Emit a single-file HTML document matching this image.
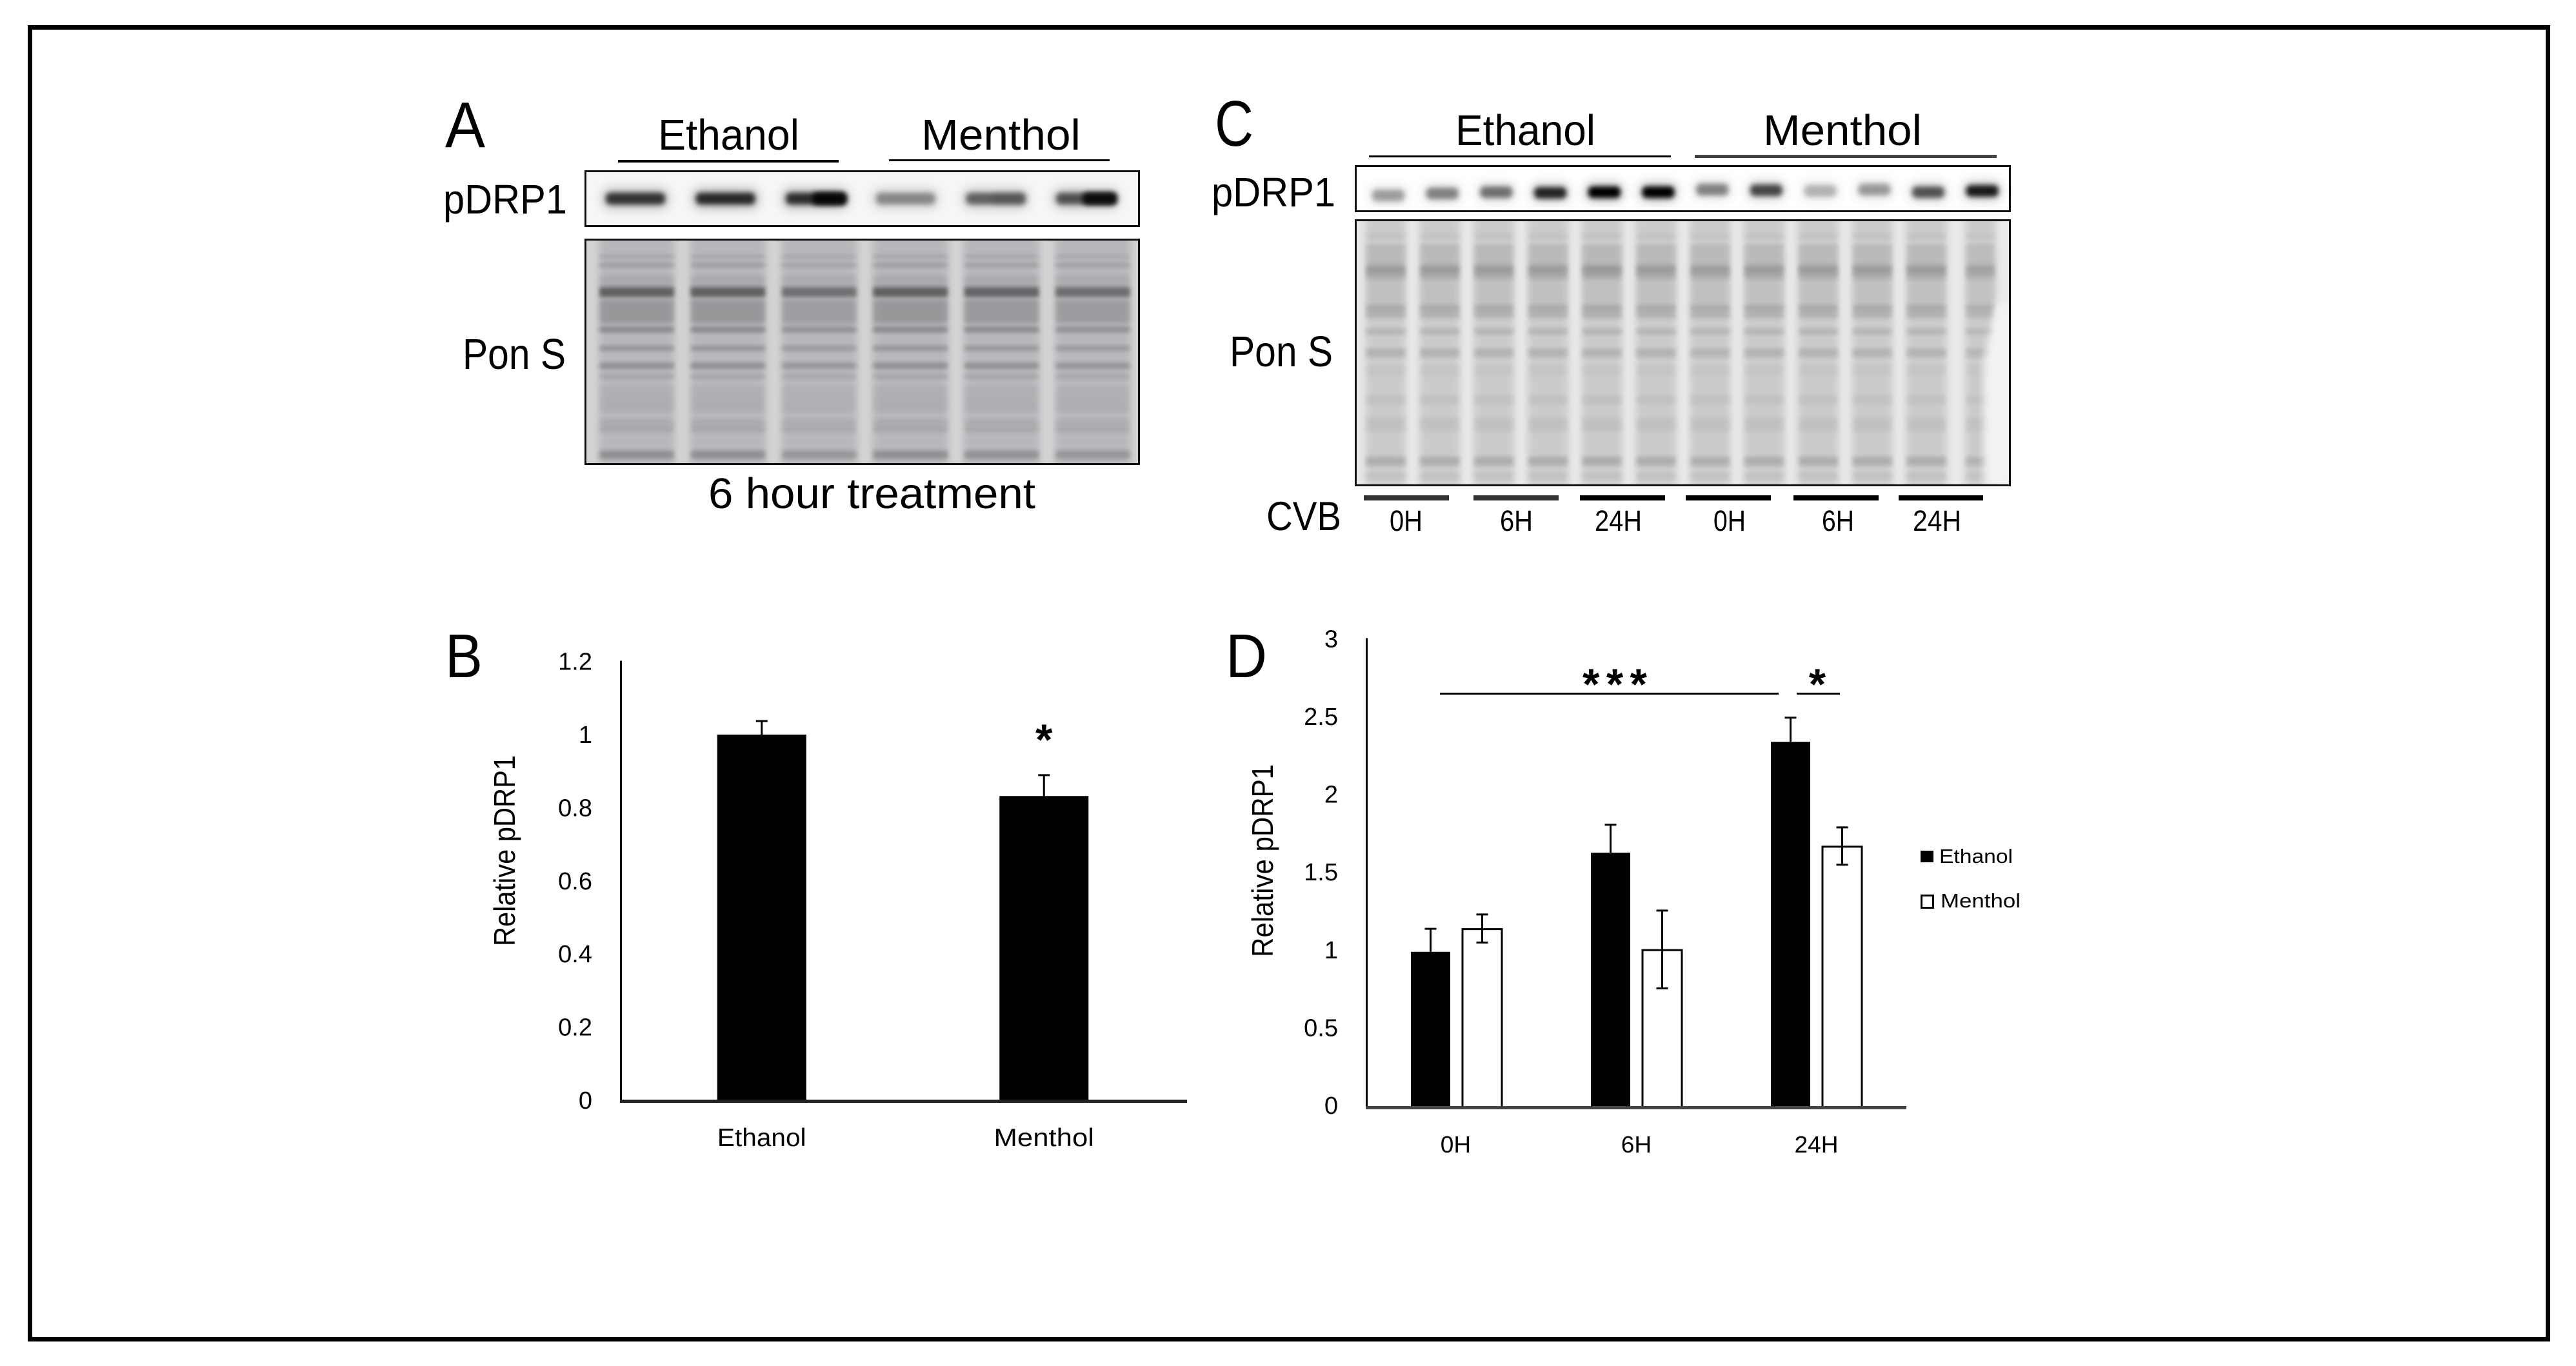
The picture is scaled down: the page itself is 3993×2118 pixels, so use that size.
<!DOCTYPE html>
<html lang="en">
<head>
<meta charset="utf-8">
<title>pDRP1 western blots and quantification</title>
<style>
html,body{margin:0;padding:0;background:#fff;}
svg{display:block;}
text{font-family:"Liberation Sans",Arial,sans-serif;fill:#000;}
</style>
</head>
<body>
<svg id="fig" xmlns="http://www.w3.org/2000/svg" width="3993" height="2118" viewBox="0 0 3993 2118">
  <defs>
    <filter id="blurLane" x="-20%" y="-5%" width="140%" height="110%"><feGaussianBlur stdDeviation="6"/></filter>
    <filter id="blurBand" x="-10%" y="-150%" width="120%" height="400%"><feGaussianBlur stdDeviation="3.2"/></filter>
    <filter id="blurCore" x="-20%" y="-100%" width="140%" height="300%"><feGaussianBlur stdDeviation="4"/></filter>
    <filter id="blurHalo" x="-30%" y="-200%" width="160%" height="500%"><feGaussianBlur stdDeviation="9"/></filter>
    <clipPath id="clipA1"><rect x="907" y="265" width="859" height="86"/></clipPath>
    <clipPath id="clipA2"><rect x="907" y="371" width="859" height="349"/></clipPath>
    <clipPath id="clipC1"><rect x="2101" y="257" width="1015" height="71"/></clipPath>
    <clipPath id="clipC2"><rect x="2101" y="341" width="1015" height="412"/></clipPath>
  </defs>

  <rect x="46.5" y="42.5" width="3903" height="2034" fill="#fff" stroke="#000" stroke-width="7"/>

  <!-- Panel A -->
  <g>
    <text x="690" y="228" font-size="100" textLength="62" lengthAdjust="spacingAndGlyphs">A</text>
    <text x="1020" y="232" font-size="67" textLength="219" lengthAdjust="spacingAndGlyphs">Ethanol</text>
    <rect x="958" y="248" width="342" height="4" fill="#000"/>
    <text x="1428" y="232" font-size="67" textLength="247" lengthAdjust="spacingAndGlyphs">Menthol</text>
    <rect x="1378" y="247" width="342" height="3" fill="#000"/>
    <text x="687" y="331" font-size="64" textLength="192" lengthAdjust="spacingAndGlyphs">pDRP1</text>
    <text x="717" y="572" font-size="67" textLength="160" lengthAdjust="spacingAndGlyphs">Pon S</text>
    <g id="blotA1" clip-path="url(#clipA1)"></g>
    <rect x="907.5" y="265.5" width="858" height="85" fill="none" stroke="#111" stroke-width="3"/>
    <g id="blotA2" clip-path="url(#clipA2)"></g>
    <rect x="907.5" y="371.5" width="858" height="348" fill="none" stroke="#111" stroke-width="3"/>
    <text x="1098" y="788" font-size="67" textLength="507" lengthAdjust="spacingAndGlyphs">6 hour treatment</text>
  </g>

  <!-- Panel C -->
  <g>
    <text x="1883" y="226" font-size="100" textLength="60" lengthAdjust="spacingAndGlyphs">C</text>
    <text x="2256" y="225" font-size="67" textLength="217" lengthAdjust="spacingAndGlyphs">Ethanol</text>
    <rect x="2122" y="241" width="468" height="3" fill="#000"/>
    <text x="2733" y="225" font-size="67" textLength="246" lengthAdjust="spacingAndGlyphs">Menthol</text>
    <rect x="2627" y="240" width="468" height="5" fill="#444"/>
    <text x="1878" y="320" font-size="64" textLength="192" lengthAdjust="spacingAndGlyphs">pDRP1</text>
    <text x="1906" y="568" font-size="67" textLength="160" lengthAdjust="spacingAndGlyphs">Pon S</text>
    <g id="blotC1" clip-path="url(#clipC1)"></g>
    <rect x="2101.5" y="257.5" width="1014" height="70" fill="none" stroke="#111" stroke-width="3"/>
    <g id="blotC2" clip-path="url(#clipC2)"></g>
    <rect x="2101.5" y="341.5" width="1014" height="411" fill="none" stroke="#111" stroke-width="3"/>
    <text x="1963" y="822" font-size="63" textLength="116" lengthAdjust="spacingAndGlyphs">CVB</text>
    <g fill="#000">
      <rect x="2114" y="768" width="132" height="8" fill="#333"/>
      <rect x="2284" y="768" width="132" height="8" fill="#333"/>
      <rect x="2449" y="768" width="132" height="8"/>
      <rect x="2613" y="768" width="132" height="8"/>
      <rect x="2780" y="768" width="132" height="8"/>
      <rect x="2943" y="768" width="131" height="8"/>
    </g>
    <g font-size="45">
      <text x="2154" y="823" textLength="51" lengthAdjust="spacingAndGlyphs">0H</text>
      <text x="2325" y="823" textLength="51" lengthAdjust="spacingAndGlyphs">6H</text>
      <text x="2472" y="823" textLength="73" lengthAdjust="spacingAndGlyphs">24H</text>
      <text x="2656" y="823" textLength="50" lengthAdjust="spacingAndGlyphs">0H</text>
      <text x="2824" y="823" textLength="50" lengthAdjust="spacingAndGlyphs">6H</text>
      <text x="2965" y="823" textLength="75" lengthAdjust="spacingAndGlyphs">24H</text>
    </g>
  </g>

  <!-- Panel B -->
  <g id="chartB">
    <text x="690" y="1050" font-size="96" textLength="58" lengthAdjust="spacingAndGlyphs">B</text>
    <text transform="translate(798,1467) rotate(-90)" font-size="46" textLength="296" lengthAdjust="spacingAndGlyphs">Relative pDRP1</text>
  </g>

  <!-- Panel D -->
  <g id="chartD">
    <text x="1900" y="1050" font-size="96" textLength="64" lengthAdjust="spacingAndGlyphs">D</text>
    <text transform="translate(1973,1484) rotate(-90)" font-size="46" textLength="299" lengthAdjust="spacingAndGlyphs">Relative pDRP1</text>
    <rect x="2232" y="1074" width="525" height="3" fill="#000"/>
    <rect x="2785" y="1074" width="67" height="3" fill="#000"/>
    <text x="2503" y="1084" font-size="68" font-weight="700" text-anchor="middle" textLength="100" lengthAdjust="spacing">***</text>
    <text x="2817" y="1084" font-size="68" font-weight="700" text-anchor="middle">*</text>
    <g>
      <rect x="2977" y="1319" width="20" height="18" fill="#000"/>
      <text x="3006" y="1338" font-size="31" textLength="114" lengthAdjust="spacingAndGlyphs">Ethanol</text>
      <rect x="2978.5" y="1388.5" width="18" height="19" fill="#fff" stroke="#000" stroke-width="3"/>
      <text x="3008" y="1407" font-size="31" textLength="124" lengthAdjust="spacingAndGlyphs">Menthol</text>
    </g>
  </g>
</svg>

<script>
// ---------- Chart B data ----------
const bCategories = ['Ethanol', 'Menthol'];
const bValues = [1.0, 0.832];
const bErrors = [0.037, 0.057];
const bTicks = [0, 0.2, 0.4, 0.6, 0.8, 1, 1.2];
const bMarks = ['', '*'];

// ---------- Chart D data ----------
const dCategories = ['0H', '6H', '24H'];
const dEthanol = [1.0, 1.637, 2.35];
const dMenthol = [1.15, 1.015, 1.68];
const dEthanolErr = [0.148, 0.18, 0.155];
const dMentholErr = [0.09, 0.25, 0.12];
const dTicks = [0, 0.5, 1, 1.5, 2, 2.5, 3];

// ---------- Blot densitometry (relative band density per lane) ----------
const pdrpDensityA = [0.68, 0.74, 0.72, 0.26, 0.44, 0.52];
const pdrpHotspotA = [0, 0, 0.85, 0, 0.1, 0.85];
const pdrpDensityC = [0.22, 0.34, 0.42, 0.8, 1.0, 1.0, 0.34, 0.62, 0.12, 0.24, 0.56, 0.85];
const pdrpShiftC = [5, 2, 0, 1, 0, 0, -4, -3, -2, -4, 0, -2];
const ponLoadA = [1, 1, 0.82, 1, 0.95, 0.85];
const ponLoadC = [1, 1, 1, 1, 1.05, 1, 0.95, 1, 1, 1, 1, 0.85];
const ponStripsA = [
  [0.077, 6, 0.2], [0.115, 6, 0.34], [0.189, 20, 0.14], [0.235, 15, 0.95],
  [0.321, 36, 0.34], [0.401, 9, 0.52], [0.484, 8, 0.4], [0.562, 9, 0.46],
  [0.61, 7, 0.22], [0.676, 16, 0.08], [0.734, 24, 0.1], [0.814, 10, 0.14],
  [0.845, 8, 0.2], [0.957, 13, 0.42]
];
const ponStripsC = [
  [0.06, 8, 0.06], [0.095, 6, 0.05], [0.15, 44, 0.12], [0.197, 22, 0.22],
  [0.28, 46, 0.07], [0.345, 20, 0.18], [0.42, 10, 0.15], [0.5, 14, 0.16],
  [0.568, 16, 0.04], [0.677, 14, 0.07], [0.77, 22, 0.07], [0.908, 14, 0.2],
  [0.964, 8, 0.08]
];

const NS = 'http://www.w3.org/2000/svg';
function svgEl(tag, attrs, parent, txt) {
  const n = document.createElementNS(NS, tag);
  for (const k in attrs) n.setAttribute(k, attrs[k]);
  if (txt !== undefined) n.textContent = txt;
  parent.appendChild(n);
  return n;
}
function stretch(t, ratio) {
  const w = t.getComputedTextLength();
  t.setAttribute('textLength', (w * ratio).toFixed(1));
  t.setAttribute('lengthAdjust', 'spacingAndGlyphs');
}

// ---------- Chart B ----------
(function () {
  const g = document.getElementById('chartB');
  const x0 = 962, x1 = 1840, y0 = 1706, perUnit = 567, barW = 138;
  const yB = v => y0 - v * perUnit;
  const xB = i => x0 + (1837 - x0) * (i + 0.5) / bCategories.length;

  bCategories.forEach((c, i) => {
    const er = svgEl('path', {
      d: 'M' + xB(i) + ' ' + yB(bValues[i]) + 'V' + yB(bValues[i] + bErrors[i]) +
         'M' + (xB(i) - 9) + ' ' + yB(bValues[i] + bErrors[i]) + 'H' + (xB(i) + 9),
      stroke: '#000', 'stroke-width': 3, fill: 'none'
    }, g);
    
    

    const bar = svgEl('rect', {
      x: xB(i) - barW / 2, y: yB(bValues[i]), width: barW,
      height: yB(0) - yB(bValues[i]), fill: '#000'
    }, g);
    
    

    const lab = svgEl('text', {
      x: xB(i), y: 1777, 'font-size': 39, 'text-anchor': 'middle'
    }, g, c);
    
    
    stretch(lab, c === 'Menthol' ? 1.12 : 1.04);

    if (bMarks[i]) {
      const star = svgEl('text', {
        x: xB(i), y: 1170, 'font-size': 68, 'font-weight': 700, 'text-anchor': 'middle'
      }, g, bMarks[i]);
      
      
    }
  });

  bTicks.forEach(t => {
    const lab = svgEl('text', {
      x: 918, y: yB(t) + 13, 'font-size': 38, 'text-anchor': 'end'
    }, g, String(t));
    
    
  });

  const ya = svgEl('rect', { x: x0 - 1, y: yB(1.2) - 1, width: 3, height: y0 - yB(1.2) + 3, fill: '#000' }, g);
  
  
  const xa = svgEl('rect', { x: x0 - 1, y: y0 - 1, width: x1 - x0 + 1, height: 5, fill: '#222' }, g);
  
  
})();

// ---------- Chart D ----------
(function () {
  const g = document.getElementById('chartD');
  const x0 = 2118, x1 = 2955, y0 = 1717, perUnit = 241.2, barW = 61, off = 40;
  const yD = v => y0 - v * perUnit;
  const xD = i => x0 + (x1 - x0) * (i + 0.5) / dCategories.length;

  dCategories.forEach((c, i) => {
    const barE = svgEl('rect', {
      x: xD(i) - off - barW / 2, y: yD(dEthanol[i]), width: barW,
      height: yD(0) - yD(dEthanol[i]), fill: '#000'
    }, g);
    
    

    const barM = svgEl('rect', {
      x: xD(i) + off - barW / 2, y: yD(dMenthol[i]) + 1, width: barW,
      height: yD(0) - yD(dMenthol[i]) - 1, fill: '#fff', stroke: '#000', 'stroke-width': 3
    }, g);
    
    

    const ex = xD(i) - off;
    const errE = svgEl('path', {
      d: 'M' + ex + ' ' + yD(dEthanol[i]) + 'V' + yD(dEthanol[i] + dEthanolErr[i]) +
         'M' + (ex - 9) + ' ' + yD(dEthanol[i] + dEthanolErr[i]) + 'H' + (ex + 9),
      stroke: '#000', 'stroke-width': 3, fill: 'none'
    }, g);
    
    

    const mx = xD(i) + off;
    const top = yD(dMenthol[i] + dMentholErr[i]);
    const bot = yD(dMenthol[i] - dMentholErr[i]);
    const errM = svgEl('path', {
      d: 'M' + mx + ' ' + top + 'V' + bot +
         'M' + (mx - 9) + ' ' + top + 'H' + (mx + 9) +
         'M' + (mx - 9) + ' ' + bot + 'H' + (mx + 9),
      stroke: '#000', 'stroke-width': 3, fill: 'none'
    }, g);
    
    

    const lab = svgEl('text', {
      x: xD(i) - (i === 0 ? 1 : 0), y: 1787, 'font-size': 36, 'text-anchor': 'middle'
    }, g, c);
    
    
    stretch(lab, 1.03);
  });

  dTicks.forEach(t => {
    const lab = svgEl('text', {
      x: 2074, y: yD(t) + 10, 'font-size': 38, 'text-anchor': 'end'
    }, g, String(t));
    
    
  });

  const ya = svgEl('rect', { x: x0 - 1, y: yD(3) - 4, width: 3, height: y0 - yD(3) + 7, fill: '#000' }, g);
  
  
  const xa = svgEl('rect', { x: x0 - 1, y: y0 - 2, width: x1 - x0 + 1, height: 5, fill: '#444' }, g);
  
  
})();

// ---------- Blots ----------
function drawPdrp(id, box, bg, laneX, bandW, bandH, yC, density, shift, hot, haloGain) {
  const g = document.getElementById(id);
  const back = svgEl('rect', { x: box[0], y: box[1], width: box[2], height: box[3], fill: bg }, g);
  
  
  density.forEach((d, i) => {
    const cy = yC + (shift ? shift[i] : 0);
    const halo = svgEl('rect', {
      x: laneX(i) - bandW / 2, y: cy - bandH * 0.75, width: bandW, height: bandH * 1.5,
      rx: 8, fill: '#000', opacity: ((0.1 + d * 0.3) * haloGain).toFixed(2), filter: 'url(#blurHalo)'
    }, g);
    
    
    const core = svgEl('rect', {
      x: laneX(i) - bandW / 2 + 3, y: cy - bandH / 2, width: bandW - 6, height: bandH,
      rx: 7, fill: '#000', opacity: Math.min(1, 0.12 + d * 0.88).toFixed(2), filter: 'url(#blurCore)'
    }, g);
    
    
    if (hot && hot[i] > 0) {
      const spot = svgEl('rect', {
        x: laneX(i) - bandW * 0.05, y: cy - bandH * 0.55, width: bandW * 0.55, height: bandH * 1.1,
        rx: 7, fill: '#000', opacity: hot[i].toFixed(2), filter: 'url(#blurCore)'
      }, g);
      
      
    }
  });
}

function drawPon(id, box, bg, laneFill, laneX, laneW, load, strips, gain) {
  const g = document.getElementById(id);
  const back = svgEl('rect', { x: box[0], y: box[1], width: box[2], height: box[3], fill: bg }, g);
  
  
  load.forEach((l, i) => {
    const w = laneW(i);
    const lane = svgEl('rect', {
      x: laneX(i) - w / 2, y: box[1] - 10, width: w, height: box[3] + 14,
      fill: laneFill, filter: 'url(#blurLane)'
    }, g);
    
    
    strips.forEach(s => {
      const b = svgEl('rect', {
        x: laneX(i) - w / 2 + 1, y: box[1] + s[0] * box[3] - s[1] / 2, width: w - 2, height: s[1],
        fill: '#000', opacity: (s[2] * gain * l).toFixed(3), filter: 'url(#blurBand)'
      }, g);
      
      
    });
  });
}

drawPdrp('blotA1', [907, 265, 859, 86], '#f6f6f6', i => 985 + i * 139.6, 98, 18, 308, pdrpDensityA, null, pdrpHotspotA, 1);
drawPon('blotA2', [907, 371, 859, 349], '#d4d4d4', '#b8b8bc', i => 987 + i * 141.4, () => 118, ponLoadA, ponStripsA, 0.5);

drawPdrp('blotC1', [2101, 257, 1015, 71], '#ffffff', i => 2152 + i * 83.7, 56, 18, 298, pdrpDensityC, pdrpShiftC, null, 0.7);
(function () {
  const g = document.getElementById('blotC2');
  drawPon('blotC2', [2101, 341, 1015, 412], '#eaeaea', '#cbcbcd', i => 2148 + i * 83.8, i => (i === 11 ? 48 : 64), ponLoadC, ponStripsC, 0.7);
  const corner = svgEl('polygon', { points: '3095,470 3116,470 3116,753 3075,753 3075,560', fill: '#f3f3f3', filter: 'url(#blurLane)' }, g);
  
  
})();
</script>
</body>
</html>
